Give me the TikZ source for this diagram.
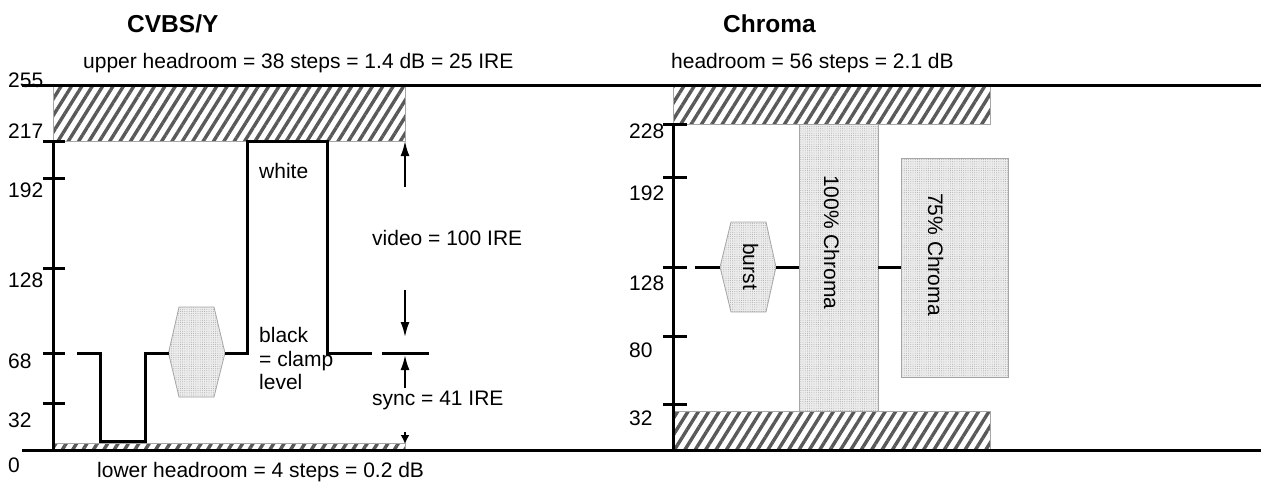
\documentclass[tikz,border=0pt]{standalone}
\usepackage{fontspec}
\setmainfont{Liberation Sans}
\usetikzlibrary{arrows.meta,patterns.meta}
\begin{document}
\begin{tikzpicture}[x=1pt,y=-1pt,
  lbl/.style={font=\fontsize{21}{25}\selectfont, inner sep=0pt, anchor=base west},
  ttl/.style={font=\bfseries\fontsize{24.5}{28}\selectfont, inner sep=0pt, anchor=base west},
  rlbl/.style={lbl, rotate=-90},
  axline/.style={line width=3pt},
  wave/.style={line width=3pt},
  hatchbox/.style={draw=gray!70, line width=0.8pt, pattern={Lines[angle=58,distance=8.8pt,line width=3.4pt]}, pattern color=black!65},
  stip/.style={draw=gray!70, line width=0.8pt, fill=gray!14, postaction={pattern={Dots[distance=2.2pt,radius=0.45pt]}, pattern color=gray!75}},
  arr/.style={line width=2pt, -{Latex[length=15pt,width=9pt]}},
]
\useasboundingbox (0,0) rectangle (1261,483);

% ---------- hatched headroom areas ----------
\draw[hatchbox] (53,86) rectangle (405,141);
\draw[hatchbox] (53,443) rectangle (405,449);
\draw[hatchbox] (673,86) rectangle (990,124);
\draw[hatchbox] (673,411) rectangle (990,449);

% ---------- titles and headroom texts ----------
\node[ttl] (tY) at (127,32) {CVBS/Y};
\node[ttl] (tC) at (723,32) {Chroma};
\node[lbl] (uh) at (83,68) {upper headroom = 38 steps = 1.4 dB = 25 IRE};
\node[lbl] (ch) at (671,68) {headroom = 56 steps = 2.1 dB};
\node[lbl] (lh) at (97,477) {lower headroom = 4 steps = 0.2 dB};

% ---------- left axis ----------
\draw[axline] (53,141) -- (53,450);
\foreach \yy in {141,178,268,353,403} \draw[axline] (43,\yy) -- (65,\yy);
\node[lbl] (l255) at (8,87) {255};
\node[lbl] (l217) at (8,138) {217};
\node[lbl] (l192) at (8,197) {192};
\node[lbl] (l128) at (8,287) {128};
\node[lbl] (l68) at (8,368) {68};
\node[lbl] (l32) at (8,427) {32};
\node[lbl] (l0) at (8,472) {0};

% ---------- CVBS waveform ----------
\coordinate (hexL) at (168.5,353);
\coordinate (hexR) at (225,353);
\draw[stip] (hexL) -- (179,307) -- (214,307) -- (hexR) -- (214,397) -- (179,397) -- cycle;
\draw[wave] (77,353) -| (100,441) -| (145,353) -- (hexL);
\draw[wave] (hexR) -- (247,353) |- (327,141) |- (372,353);
\draw[wave] (382,353) -- (429,353);

\node[lbl] (white) at (259,178) {white};
\node[lbl] (black) at (259,342) {black};
\node[lbl] (clamp) at (259,366) {= clamp};
\node[lbl] (level) at (259,389) {level};

% ---------- dimension arrows ----------
\coordinate (vA) at (405,187);
\coordinate (vT) at (405,141);
\coordinate (vB) at (405,290);
\coordinate (vBT) at (405,337);
\coordinate (sA) at (405,388);
\coordinate (sT) at (405,355);
\coordinate (lA) at (405,432);
\coordinate (lT) at (405,444);
\draw[arr] (vA) -- (vT);
\draw[arr] (vB) -- (vBT);
\draw[arr] (sA) -- (sT);
\draw[line width=2pt, -{Latex[length=9pt,width=9pt]}] (lA) -- (lT);
\node[lbl] (video) at (372,245) {video = 100 IRE};
\node[lbl] (sync) at (372,405) {sync = 41 IRE};

% ---------- chroma panel ----------
\draw[stip] (799,124) rectangle (878,411);
\draw[stip] (901,158) rectangle (1008,377);
\coordinate (bL) at (720,267);
\coordinate (bR) at (776,267);
\draw[stip] (bL) -- (731,222) -- (766,222) -- (bR) -- (766,312) -- (731,312) -- cycle;
\draw[wave] (695,267) -- (bL);
\draw[wave] (bR) -- (799,267);
\draw[wave] (878,267) -- (901,267);
\node[rlbl] (burst) at (743,243) {burst};
\node[rlbl] (c100) at (824,175) {100\% Chroma};
\node[rlbl] (c75) at (928,193) {75\% Chroma};

\draw[axline] (673,124) -- (673,450);
\foreach \yy in {124,177,267,336,404} \draw[axline] (663,\yy) -- (687,\yy);
\node[lbl] (c228) at (629,138) {228};
\node[lbl] (c192) at (629,200) {192};
\node[lbl] (c128) at (629,290) {128};
\node[lbl] (c80) at (629,357) {80};
\node[lbl] (c32) at (629,425) {32};

% ---------- full-width limit lines ----------
\draw[axline] (22,85) -- (1261,85);
\draw[axline] (22,450) -- (1261,450);
\end{tikzpicture}
\end{document}
